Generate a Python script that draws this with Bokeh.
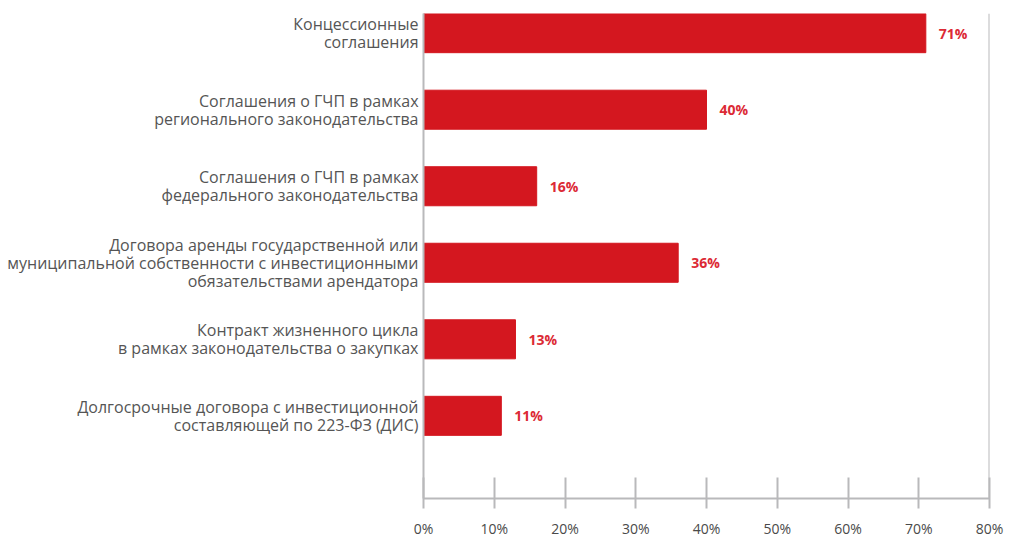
from bokeh.plotting import figure
from bokeh.models import Range1d, FixedTicker, Span, ColumnDataSource
from bokeh.embed import file_html
from bokeh.resources import INLINE
from bokeh.core.properties import value

categories = [
    "Концессионные\nсоглашения",
    "Соглашения о ГЧП в рамках\nрегионального законодательства",
    "Соглашения о ГЧП в рамках\nфедерального законодательства",
    "Договора аренды государственной или\nмуниципальной собственности с инвестиционными\nобязательствами арендатора",
    "Контракт жизненного цикла\nв рамках законодательства о закупках",
    "Долгосрочные договора с инвестиционной\nсоставляющей по 223-ФЗ (ДИС)",
]
values = [71, 40, 16, 36, 13, 11]
value_labels = ["71%", "40%", "16%", "36%", "13%", "11%"]
x_ticks = [0, 10, 20, 30, 40, 50, 60, 70, 80]
x_tick_labels = ["0%", "10%", "20%", "30%", "40%", "50%", "60%", "70%", "80%"]

positions = list(range(len(categories)))
src = ColumnDataSource(dict(y=positions, v=values, lab=value_labels))

GRAY = "#b9b9bb"
BAR = "#d4171f"
FONT = "Open Sans"

p = figure(width=1004, height=540,
           x_range=Range1d(0, 80), y_range=Range1d(6.08, -0.257),
           output_backend="svg", toolbar_location=None,
           min_border_left=423, min_border_right=15,
           min_border_top=13, min_border_bottom=34)

p.hbar(y="y", left=0, right="v", height=0.51, color=BAR, source=src)
p.text(x="v", y="y", text="lab", x_offset=13, text_baseline="middle",
       text_align="left", text_font=value(FONT), text_font_style="bold",
       text_font_size="14px", text_color="#dc2a35", source=src)

p.add_layout(Span(location=80, dimension="height", line_color=GRAY, line_width=2))

p.xgrid.visible = False
p.ygrid.visible = False
p.outline_line_color = None

xa = p.xaxis[0]
xa.ticker = FixedTicker(ticks=x_ticks)
xa.major_label_overrides = {t: l for t, l in zip(x_ticks, x_tick_labels)}
xa.major_tick_in = 21
xa.major_tick_out = 10
xa.minor_tick_line_color = None
xa.major_tick_line_color = GRAY
xa.major_tick_line_width = 2
xa.axis_line_color = GRAY
xa.axis_line_width = 2
xa.major_label_standoff = 10
xa.major_label_text_font = FONT
xa.major_label_text_font_size = "14px"
xa.major_label_text_color = "#4a4a4a"

ya = p.yaxis[0]
ya.ticker = FixedTicker(ticks=positions)
ya.major_label_overrides = {i: c for i, c in zip(positions, categories)}
ya.major_tick_in = 0
ya.major_tick_out = 0
ya.minor_tick_line_color = None
ya.axis_line_color = GRAY
ya.axis_line_width = 2
ya.major_label_standoff = 5
ya.major_label_text_font = FONT
ya.major_label_text_font_size = "16px"
ya.major_label_text_color = "#555555"
ya.major_label_text_line_height = 0.83

open("out.html", "w").write(file_html(p, INLINE))
